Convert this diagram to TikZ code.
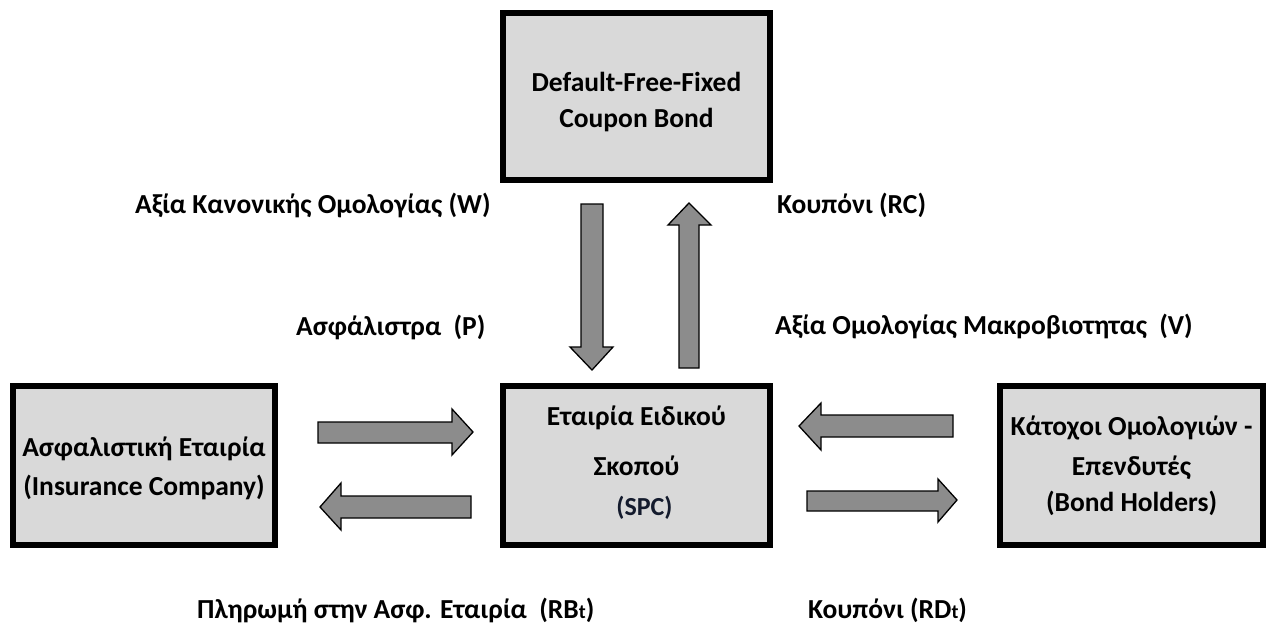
\documentclass[tikz,border=0pt]{standalone}
\usepackage{fontspec}
\setmainfont{Carlito}
\begin{document}
\begin{tikzpicture}[x=1pt,y=-1pt,
  box/.style={draw=black,line width=6pt,fill=boxgray,inner sep=0pt},
  boxtxt/.style={align=center,inner sep=0pt,font=\fontsize{27.5}{38}\selectfont\bfseries},
  lbl/.style={font=\fontsize{27.5}{30}\selectfont\bfseries,inner sep=0pt},
  barrow/.style={draw=black,line width=1.3pt,fill=arrowgray,line join=miter}]
\definecolor{boxgray}{HTML}{D9D9D9}
\definecolor{arrowgray}{HTML}{8C8C8C}
\definecolor{spcblue}{HTML}{141B2D}
\useasboundingbox (0,0) rectangle (1266,625);
% boxes
\node[box,minimum width=267pt,minimum height=167pt] (bond) at (636.5,96.5) {};
\node[box,minimum width=262pt,minimum height=159pt] (ins) at (144,465.5) {};
\node[box,minimum width=267pt,minimum height=159pt] (spc) at (636.5,465.5) {};
\node[box,minimum width=263pt,minimum height=159pt] (hold) at (1131.5,465.5) {};
% box texts
\node[boxtxt] (bondt) at (636.5,102) {Default-Free-Fixed\\[-2pt]Coupon Bond};
\node[boxtxt] (inst) at (144,468.5) {Ασφαλιστική Εταιρία\\[1pt](Insurance Company)};
\node[boxtxt] (spct) at (636.5,463) {Εταιρία Ειδικού\\[12pt]Σκοπού\\[2pt]\hspace*{16pt}{\fontsize{26}{28}\selectfont\color{spcblue}(SPC)}};
\node[boxtxt] (holdt) at (1131.5,466) {Κάτοχοι Ομολογιών -\\[2pt]Επενδυτές\\[-2pt](Bond Holders)};
% block arrows
\draw[barrow] (581,204)--(603,204)--(603,347)--(613,347)--(592,370)--(570,347)--(581,347)--cycle;
\draw[barrow] (679,368)--(679,225)--(668,225)--(689,203)--(711,225)--(699,225)--(699,368)--cycle;
\draw[barrow] (318,422)--(452,422)--(452,409)--(473,432)--(452,455)--(452,443)--(318,443)--cycle;
\draw[barrow] (471,496)--(341,496)--(341,483)--(320,507)--(341,530)--(341,518)--(471,518)--cycle;
\draw[barrow] (953,415)--(821,415)--(821,403)--(799,426)--(821,450)--(821,437)--(953,437)--cycle;
\draw[barrow] (807,491)--(938,491)--(938,479)--(957,500)--(938,522)--(938,511)--(807,511)--cycle;
% labels
\node[lbl,anchor=west] (lw) at (135,205) {Αξία Κανονικής Ομολογίας (W)};
\node[lbl,anchor=west] (lrc) at (777,205) {Κουπόνι (RC)};
\node[lbl,anchor=west] (lp) at (296,327) {Ασφάλιστρα\ \ (P)};
\node[lbl,anchor=west] (lv) at (775,327) {Αξία Ομολογίας Μακροβιοτητας\ \ (V)};
\node[lbl,anchor=west] (lrb) at (197,610) {Πληρωμή στην Ασφ. Εταιρία\ \ (RB{\fontsize{20}{20}\selectfont t})};
\node[lbl,anchor=west] (lrd) at (808,610) {Κουπόνι (RD{\fontsize{20}{20}\selectfont t})};
\end{tikzpicture}
\end{document}
